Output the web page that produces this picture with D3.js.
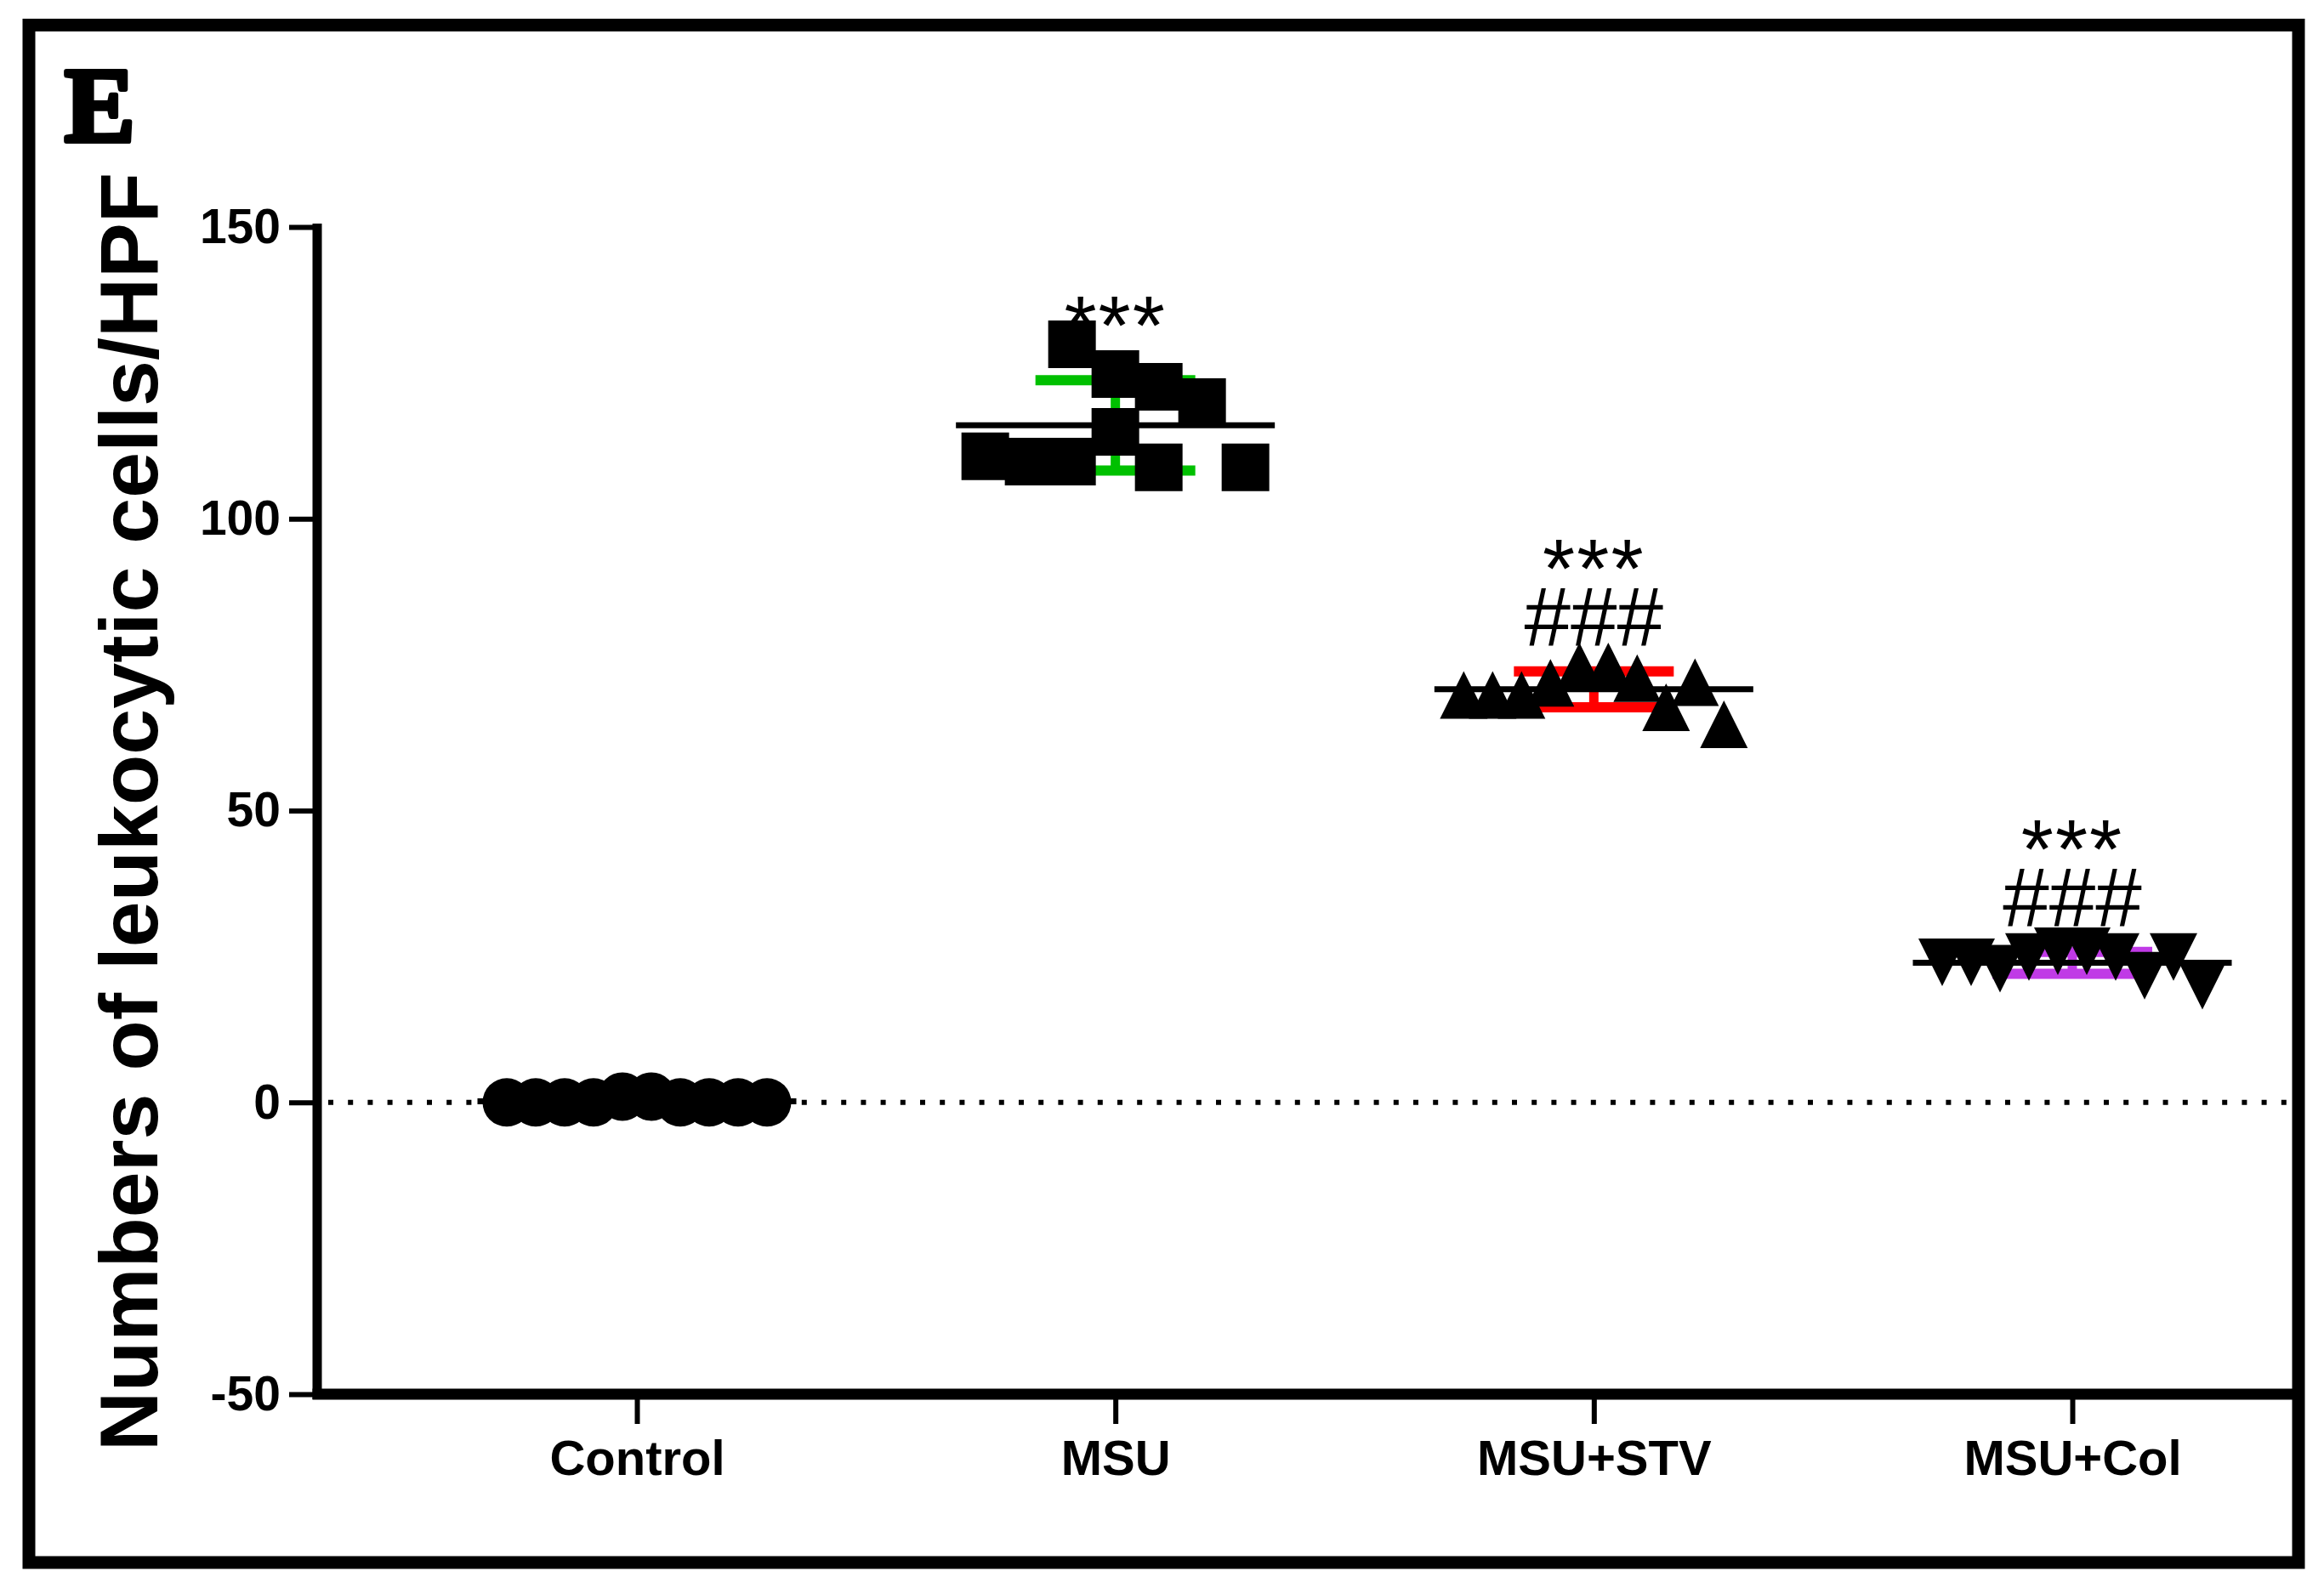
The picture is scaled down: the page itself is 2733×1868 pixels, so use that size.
<!DOCTYPE html>
<html><head><meta charset="utf-8">
<script src="https://cdn.jsdelivr.net/npm/d3@7"></script>
<style>body{margin:0;background:#fff} svg{display:block}</style>
</head><body>
<script>
// ---- data ----
const categories = ["Control", "MSU", "MSU+STV", "MSU+Col"];
const controlValues = [0, 0, 0, 0, 1, 1, 0, 0, 0, 0];
const msuValues = [110.7, 109.8, 109.8, 129.9, 114.9, 124.8, 108.8, 122.6, 120.0, 108.8];
const stvValues = [69.8, 69.8, 69.8, 71.9, 74.7, 74.7, 72.7, 67.7, 72.0, 64.8];
const colValues = [24.0, 24.0, 22.9, 24.9, 25.9, 25.9, 24.9, 21.7, 24.9, 20.0];
const yTickValues = [-50, 0, 50, 100, 150];
const starLabels = ["", "***", "***", "***"];
const hashLabels = ["", "", "###", "###"];
const yTitle = "Numbers of leukocytic cells/HPF";
const panelLabel = "E";

// ---- styles ----
const groupValues = [controlValues, msuValues, stvValues, colValues];
const errColors = ["#000000", "#00c000", "#ff0000", "#c03ae6"];
const markerSize = 56;
const spread = 306;
const font = "'Liberation Sans', Arial, Helvetica, sans-serif";

const W = 2733, H = 1868;
const svg = d3.select("body").append("svg").attr("width", W).attr("height", H);
svg.append("rect").attr("width", W).attr("height", H).attr("fill", "#fff");

// outer frame
svg.append("rect").attr("x", 34).attr("y", 29.5).attr("width", 2669).attr("height", 1808.5)
  .attr("fill", "none").attr("stroke", "#000").attr("stroke-width", 15);

const y = d3.scaleLinear().domain([-50, 150]).range([1640, 267]);
const x = d3.scalePoint().domain(categories).range([749, 2437]);

// y axis
const gy = svg.append("g").attr("transform", "translate(373,0)")
  .call(d3.axisLeft(y).tickValues(yTickValues).tickFormat(d => String(d))
    .tickSize(33).tickSizeOuter(0).tickPadding(10));
gy.select(".domain").remove();
gy.selectAll(".tick line").attr("stroke", "#000").attr("stroke-width", 6);
gy.selectAll(".tick text").attr("fill", "#000").attr("font-family", font)
  .attr("font-weight", "bold").attr("font-size", 57);
svg.append("line").attr("x1", 373).attr("x2", 373).attr("y1", y(150) - 4).attr("y2", y(-50) + 6)
  .attr("stroke", "#000").attr("stroke-width", 11);

// x axis
const gx = svg.append("g").attr("transform", `translate(0,${y(-50)})`)
  .call(d3.axisBottom(x).tickSize(35).tickSizeOuter(0));
gx.select(".domain").remove();
gx.selectAll(".tick line").attr("stroke", "#000").attr("stroke-width", 6);
gx.selectAll(".tick text").attr("fill", "#000").attr("font-family", font)
  .attr("font-weight", "bold").attr("font-size", 58).attr("y", 95).attr("dy", 0);
svg.append("line").attr("x1", 367.5).attr("x2", 2696).attr("y1", y(-50)).attr("y2", y(-50))
  .attr("stroke", "#000").attr("stroke-width", 13);

// axis title
svg.append("text").attr("transform", `translate(185,955) rotate(-90)`)
  .attr("text-anchor", "middle").attr("font-family", font).attr("font-weight", "bold")
  .attr("font-size", 97).attr("fill", "#000").text(yTitle);

// panel label
svg.append("text").attr("x", 76).attr("y", 166)
  .attr("font-family", "'Liberation Serif', 'DejaVu Serif', serif").attr("font-weight", "bold")
  .attr("font-size", 124).attr("fill", "#000").attr("stroke", "#000").attr("stroke-width", 6)
  .attr("stroke-linejoin", "round").text(panelLabel);

// zero dotted line
svg.append("line").attr("x1", 386).attr("x2", 2690).attr("y1", y(0)).attr("y2", y(0))
  .attr("stroke", "#000").attr("stroke-width", 6).attr("stroke-dasharray", "6 17.2");

// marker types
const triUp = { draw(ctx, size) { const s = Math.sqrt(size); ctx.moveTo(0, -s / 2); ctx.lineTo(s / 2, s / 2); ctx.lineTo(-s / 2, s / 2); ctx.closePath(); } };
const triDown = { draw(ctx, size) { const s = Math.sqrt(size); ctx.moveTo(0, s / 2); ctx.lineTo(s / 2, -s / 2); ctx.lineTo(-s / 2, -s / 2); ctx.closePath(); } };
const symbols = [
  d3.symbol().type(d3.symbolCircle).size(Math.PI * 28.5 * 28.5),
  d3.symbol().type(d3.symbolSquare).size(markerSize * markerSize),
  d3.symbol().type(triUp).size(markerSize * markerSize),
  d3.symbol().type(triDown).size(markerSize * markerSize)
];

// column layout: a point stacks on the current column if it sits at least one marker above the last one
function layout(vals) {
  const cols = [];
  let cur = null;
  vals.forEach(v => {
    if (cur && y(cur[cur.length - 1]) - y(v) >= markerSize) cur.push(v);
    else { cur = [v]; cols.push(cur); }
  });
  const pts = [];
  cols.forEach((col, c) => {
    const off = cols.length > 1 ? (c / (cols.length - 1) - 0.5) * spread : 0;
    col.forEach(v => pts.push({ v, off }));
  });
  return pts;
}

categories.forEach((cat, i) => {
  const vals = groupValues[i];
  const cx = x(cat);
  const m = d3.mean(vals), sd = d3.deviation(vals);
  const g = svg.append("g");
  // error bar (mean ± SD)
  g.append("line").attr("x1", cx).attr("x2", cx).attr("y1", y(m - sd)).attr("y2", y(m + sd))
    .attr("stroke", errColors[i]).attr("stroke-width", 11);
  [m - sd, m + sd].forEach(v => {
    g.append("line").attr("x1", cx - 94).attr("x2", cx + 94).attr("y1", y(v)).attr("y2", y(v))
      .attr("stroke", errColors[i]).attr("stroke-width", 12);
  });
  // mean line
  g.append("line").attr("x1", cx - 187.5).attr("x2", cx + 187.5).attr("y1", y(m)).attr("y2", y(m))
    .attr("stroke", "#000").attr("stroke-width", 7);
  // points
  g.selectAll("path.pt").data(layout(vals)).join("path").attr("class", "pt")
    .attr("d", symbols[i]).attr("fill", "#000")
    .attr("transform", d => `translate(${cx + d.off},${y(d.v)})`);
  // significance labels (one text block, stars above hashes)
  const lines = [starLabels[i], hashLabels[i]].filter(s => s);
  if (lines.length) {
    const base = y(m + sd) - 30 - (lines.length - 1) * 57;
    const t = g.append("text").attr("text-anchor", "middle")
      .attr("font-family", font).attr("font-size", 98).attr("fill", "#000");
    lines.forEach((s, k) => {
      t.append("tspan").attr("x", cx).attr("y", base + k * 57)
        .attr("letter-spacing", s[0] === "*" ? 2 : 0).text(s);
    });
  }
});
</script>
</body></html>
